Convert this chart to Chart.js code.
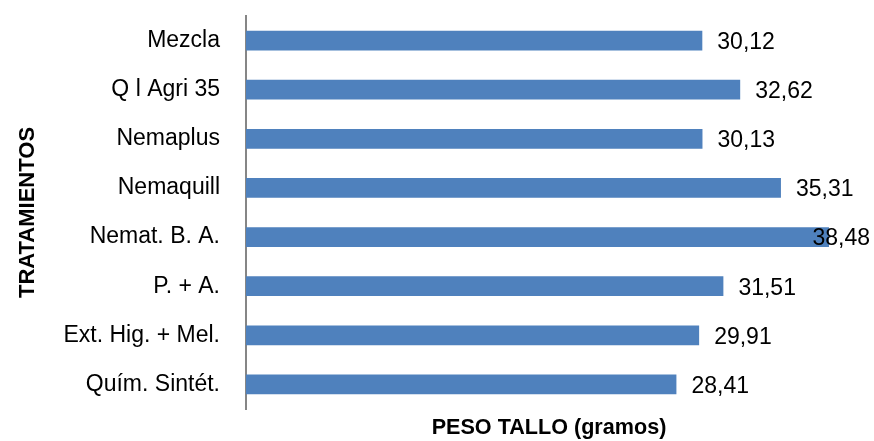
<!DOCTYPE html>
<html>
<head>
<meta charset="utf-8">
<script src="https://cdn.jsdelivr.net/npm/chart.js@4/dist/chart.umd.min.js"></script>
<style>
  html, body { margin: 0; padding: 0; background: #fff; }
  #wrap { width: 874px; height: 441px; }
</style>
</head>
<body>
<div id="wrap"><canvas id="chart" width="874" height="441"></canvas></div>
<script>
const tratamientos = ["Mezcla", "Q l Agri 35", "Nemaplus", "Nemaquill", "Nemat. B. A.", "P. + A.", "Ext. Hig. + Mel.", "Quím. Sintét."];
const pesoTallo = [30.12, 32.62, 30.13, 35.31, 38.48, 31.51, 29.91, 28.41];
const ejeX = { min: 0, max: 40 };

const fontFamily = "'Liberation Sans', Arial, sans-serif";

// etiquetas de valor al final de cada barra, con coma decimal
const valueLabels = {
  id: "valueLabels",
  afterDatasetsDraw(chart) {
    const ctx = chart.ctx;
    const meta = chart.getDatasetMeta(0);
    ctx.save();
    ctx.font = "23px " + fontFamily;
    ctx.fillStyle = "#000";
    ctx.textBaseline = "middle";
    meta.data.forEach((bar, i) => {
      const txt = pesoTallo[i].toFixed(2).replace(".", ",");
      const w = ctx.measureText(txt).width;
      let x = bar.x + 15;
      if (x + w > 870) x = 870 - w;
      ctx.fillText(txt, x, bar.y + 2);
    });
    ctx.restore();
  }
};

function noPad(scale) {
  scale.paddingTop = 0;
  scale.paddingBottom = 0;
  scale.paddingLeft = 0;
  scale.paddingRight = 0;
}

new Chart(document.getElementById("chart"), {
  type: "bar",
  data: {
    labels: tratamientos,
    datasets: [
      {
        data: pesoTallo,
        backgroundColor: "#4F81BD",
        borderWidth: 0,
        categoryPercentage: 1,
        barPercentage: 0.4,
      },
    ],
  },
  options: {
    indexAxis: "y",
    responsive: false,
    animation: false,
    layout: { autoPadding: false, padding: { top: 16, right: 22, bottom: 0, left: 0 } },
    plugins: {
      legend: { display: false },
      tooltip: { enabled: false },
    },
    scales: {
      x: {
        min: ejeX.min,
        max: ejeX.max,
        grid: { display: false, drawTicks: false },
        border: { display: false },
        ticks: { display: false },
        title: {
          display: true,
          text: "PESO TALLO (gramos)",
          color: "#000",
          font: { family: fontFamily, size: 21.6, weight: "bold" },
          padding: { top: 0, bottom: 0 },
        },
        afterFit(scale) { scale.height = 32; noPad(scale); },
      },
      y: {
        grid: { display: false, drawTicks: false },
        border: { display: true, color: "#868686", width: 2 },
        ticks: {
          color: "#000",
          padding: 26,
          font: { family: fontFamily, size: 23 },
        },
        title: {
          display: true,
          text: "TRATAMIENTOS",
          color: "#000",
          font: { family: fontFamily, size: 22, weight: "bold" },
          padding: { top: 15, bottom: 0 },
        },
        afterFit(scale) { scale.width = 246; noPad(scale); },
      },
    },
  },
  plugins: [valueLabels],
});
</script>
</body>
</html>
